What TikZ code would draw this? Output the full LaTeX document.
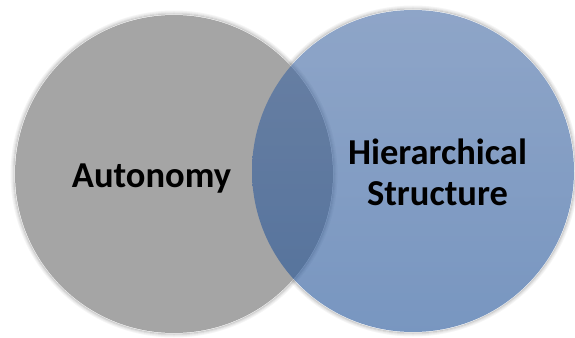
\documentclass[tikz,border=0pt]{standalone}
\usepackage{fontspec}
\setmainfont{Carlito}
\usetikzlibrary{shadows.blur}

\definecolor{autgray}{RGB}{165,165,165}
\definecolor{hiertop}{RGB}{67,105,163}
\definecolor{hierbot}{RGB}{30,80,150}

\tikzset{
  setcircle/.style={circle, inner sep=0pt, minimum size=#1},
  setlabel/.style={font=\bfseries\fontsize{36.5}{41}\selectfont, text=black, align=center}
}

\begin{document}
\begin{tikzpicture}[x=1pt,y=-1pt]
\useasboundingbox (0,0) rectangle (575,337);

% soft halo round both sets
\foreach \r/\o in {160/0.18,161/0.12,162/0.07,163/0.04}{
  \draw[black, opacity=\o, line width=1pt] (174,174) circle (\r pt);
  \draw[black, opacity=\o, line width=1pt] (413,171) circle (\r pt+2pt);
}

\node[setcircle=318pt, fill=autgray] (aut) at (174,174) {};
\node[setcircle=322pt, top color=hiertop, bottom color=hierbot, fill opacity=0.6] (hier) at (413,171) {};

\node[setlabel, anchor=base] (autlabel) at (151.5,187) {Autonomy};
\node[setlabel] (hierlabel) at (437.5,172) {Hierarchical\\Structure};
\end{tikzpicture}
\end{document}
